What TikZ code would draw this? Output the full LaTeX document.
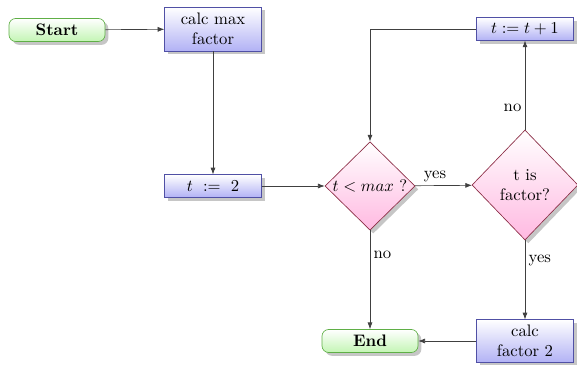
\documentclass[tikz,border=0pt]{standalone}
\usetikzlibrary{shapes.geometric,shadows,arrows.meta}
\definecolor{boxline}{RGB}{80,80,165}
\definecolor{boxfill}{RGB}{178,178,245}
\definecolor{termline}{RGB}{95,175,70}
\definecolor{termfill}{RGB}{195,245,180}
\definecolor{decline}{RGB}{140,45,70}
\definecolor{decfill}{RGB}{255,185,225}
\begin{document}
\begin{tikzpicture}[x=0.6pt,y=-0.6pt,
  every node/.style={font=\normalsize},
  shad/.style={drop shadow={opacity=0.45,shadow xshift=2pt,shadow yshift=-2pt}},
  term/.style={rounded corners=4pt,draw=termline,top color=white,bottom color=termfill,
    font=\bfseries,minimum width=57.6pt,minimum height=13.8pt,inner sep=1pt,shad},
  proc/.style={draw=boxline,top color=white,bottom color=boxfill,
    minimum width=58pt,minimum height=13.5pt,inner sep=1.5pt,align=center,shad},
  dec/.style={diamond,draw=decline,top color=white,bottom color=decfill,
    inner sep=0pt,align=center,shad},
  conn/.style={draw=black!75,-{Latex[length=4pt,width=3pt]}},
  lab/.style={inner sep=2pt}]
\useasboundingbox (0,0) rectangle (577,365);
\node[term] (start) at (57,30) {Start};
\node[proc,minimum height=26.4pt] (cmf) at (213,29) {calc max\\factor};
\node[proc] (t2) at (213,186) {$t\ :=\ 2$};
\node[dec,minimum width=54pt,minimum height=53pt] (d1) at (370,186) {$t<max$ ?};
\node[dec,minimum width=63.6pt,minimum height=66pt] (d2) at (525,185) {t is\\factor?};
\node[proc] (inc) at (525,29) {$t := t+1$};
\node[proc,minimum height=25.5pt] (cf2) at (525,341) {calc\\factor 2};
\node[term] (end) at (370,341) {End};
\coordinate (corner) at (370,29);
\draw[conn] (start) -- (cmf);
\draw[conn] (cmf) -- (t2);
\draw[conn] (t2) -- (d1);
\draw[conn] (d1) -- node[lab,above,pos=0.35] {yes} (d2);
\draw[conn] (d2) -- node[lab,left,pos=0.25] {no} (inc);
\draw[conn] (inc.west) -- (corner) -- (d1.north);
\draw[conn] (d1) -- node[lab,right,pos=0.25] {no} (end);
\draw[conn] (d2) -- node[lab,right,pos=0.25] {yes} (cf2);
\draw[conn] (cf2) -- (end);
\end{tikzpicture}
\end{document}
